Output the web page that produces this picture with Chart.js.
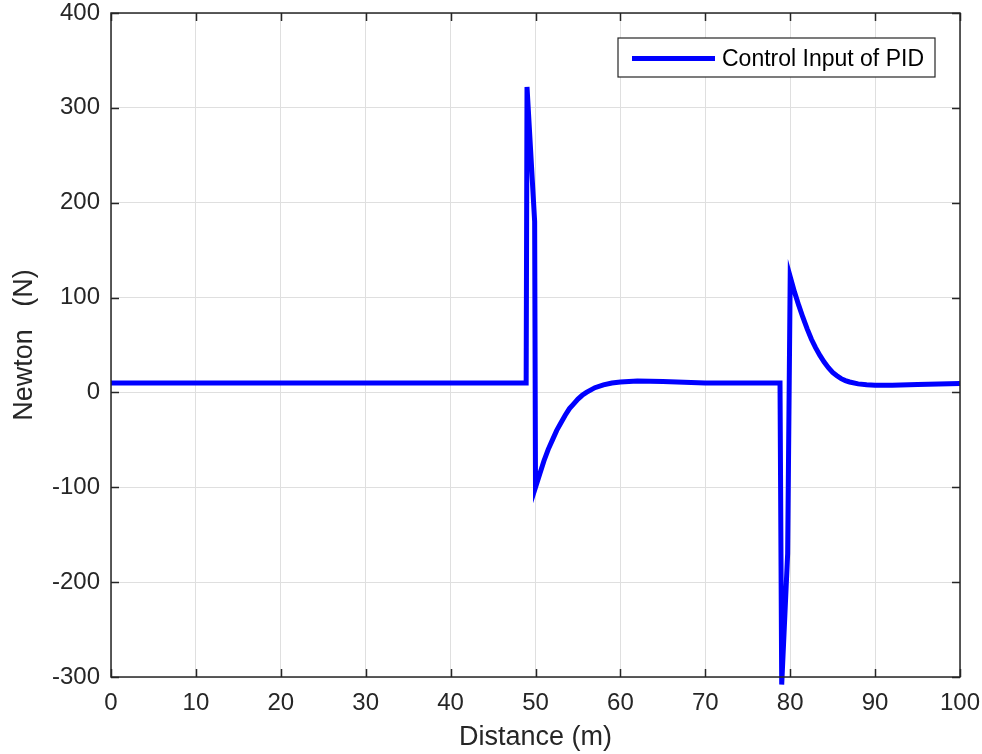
<!DOCTYPE html>
<html>
<head>
<meta charset="utf-8">
<script src="https://cdn.jsdelivr.net/npm/chart.js@4.4.1/dist/chart.umd.min.js"></script>
<style>
  html, body { margin: 0; padding: 0; background: #fff; }
  #wrap { width: 982px; height: 754px; }
</style>
</head>
<body>
<div id="wrap"><canvas id="pidChart" width="982" height="754"></canvas></div>
<script>
// distance along the track (m) and the controller output (N)
const distance = [0, 48.9, 49, 49.9, 50, 50.5, 51, 51.5, 52, 52.5, 53, 53.5, 54, 54.5, 55, 55.5, 56, 57, 58, 59, 60, 62, 65, 70,
                  78.8, 79, 79.7, 80, 80.5, 81, 81.5, 82, 82.5, 83, 83.5, 84, 84.5, 85, 85.5, 86, 86.5, 87, 88, 89, 90, 92, 95, 100];
const force    = [10, 10, 322, 180, -100, -86, -72, -60, -50, -40, -32, -24, -17, -12, -7, -3, 0, 5, 8, 10, 11, 12, 11.5, 10,
                  10, -308, -170, 122, 106, 92, 79, 67, 56, 47, 39, 32, 26, 21, 17.5, 14.5, 12.5, 11, 9, 8, 7.5, 7.5, 8.3, 9.5];
const xTicks = [0, 10, 20, 30, 40, 50, 60, 70, 80, 90, 100];
const yTicks = [-300, -200, -100, 0, 100, 200, 300, 400];
const seriesLabel = 'Control Input of PID';

const FONT = '"Liberation Sans", Arial, Helvetica, sans-serif';
const INK = '#262626';

const points = distance.map((d, i) => ({ x: d, y: force[i] }));

// MATLAB-ish box with inward ticks plus the legend in the top right corner
const axesBox = {
    id: 'axesBox',
    afterDraw(chart) {
        const { ctx, chartArea: a, scales } = chart;
        const len = 8;
        ctx.save();
        ctx.strokeStyle = INK;
        ctx.lineWidth = 1.5;
        ctx.beginPath();
        xTicks.forEach(v => {
            const px = Math.round(scales.x.getPixelForValue(v)) + 0.5;
            ctx.moveTo(px, a.bottom); ctx.lineTo(px, a.bottom - len);
            ctx.moveTo(px, a.top); ctx.lineTo(px, a.top + len);
        });
        yTicks.forEach(v => {
            const py = Math.round(scales.y.getPixelForValue(v)) + 0.5;
            ctx.moveTo(a.left, py); ctx.lineTo(a.left + len, py);
            ctx.moveTo(a.right, py); ctx.lineTo(a.right - len, py);
        });
        ctx.stroke();
        ctx.strokeRect(a.left, a.top, a.right - a.left, a.bottom - a.top);

        // legend
        const bx = a.right - 342, by = a.top + 25, bw = 317, bh = 39;
        ctx.fillStyle = '#fff';
        ctx.fillRect(bx, by, bw, bh);
        ctx.lineWidth = 1.2;
        ctx.strokeRect(bx, by, bw, bh);
        const ly = by + bh / 2 + 1;
        ctx.strokeStyle = '#0000ff';
        ctx.lineWidth = 5;
        ctx.beginPath();
        ctx.moveTo(bx + 14, ly); ctx.lineTo(bx + 97, ly);
        ctx.stroke();
        ctx.fillStyle = '#000';
        ctx.font = '23px ' + FONT;
        ctx.textBaseline = 'middle';
        ctx.fillText(seriesLabel, bx + 104, ly + 1);
        ctx.restore();
    }
};

new Chart(document.getElementById('pidChart'), {
    type: 'line',
    data: {
        datasets: [{
            label: seriesLabel,
            data: points,
            borderColor: '#0000ff',
            borderWidth: 5,
            borderJoinStyle: 'miter',
            pointRadius: 0,
            fill: false,
            tension: 0,
            clip: false
        }]
    },
    options: {
        responsive: false,
        animation: false,
        devicePixelRatio: 1,
        layout: { padding: { top: 13, right: 22, left: 0, bottom: 0 } },
        plugins: { legend: { display: false }, tooltip: { enabled: false } },
        scales: {
            x: {
                type: 'linear', min: 0, max: 100,
                afterBuildTicks: s => { s.ticks = xTicks.map(v => ({ value: v })); },
                afterFit: s => { s.height = 77; s.paddingLeft = 0; s.paddingRight = 0; },
                grid: { color: '#dfdfdf', lineWidth: 1, drawTicks: false },
                border: { display: false },
                ticks: { color: INK, padding: 12, font: { family: FONT, size: 24 }, maxRotation: 0 },
                title: { display: true, text: 'Distance (m)', color: INK, padding: 0,
                         font: { family: FONT, size: 27 } }
            },
            y: {
                type: 'linear', min: -300, max: 400,
                afterBuildTicks: s => { s.ticks = yTicks.map(v => ({ value: v })); },
                afterFit: s => { s.width = 111; s.paddingTop = 0; s.paddingBottom = 0; },
                grid: { color: '#dfdfdf', lineWidth: 1, drawTicks: false },
                border: { display: false },
                ticks: { color: INK, padding: 11, font: { family: FONT, size: 24 } },
                title: { display: true, text: 'Newton   (N)', color: INK, padding: { top: 8, bottom: 0 },
                         font: { family: FONT, size: 27 } }
            }
        }
    },
    plugins: [axesBox]
});
</script>
</body>
</html>
